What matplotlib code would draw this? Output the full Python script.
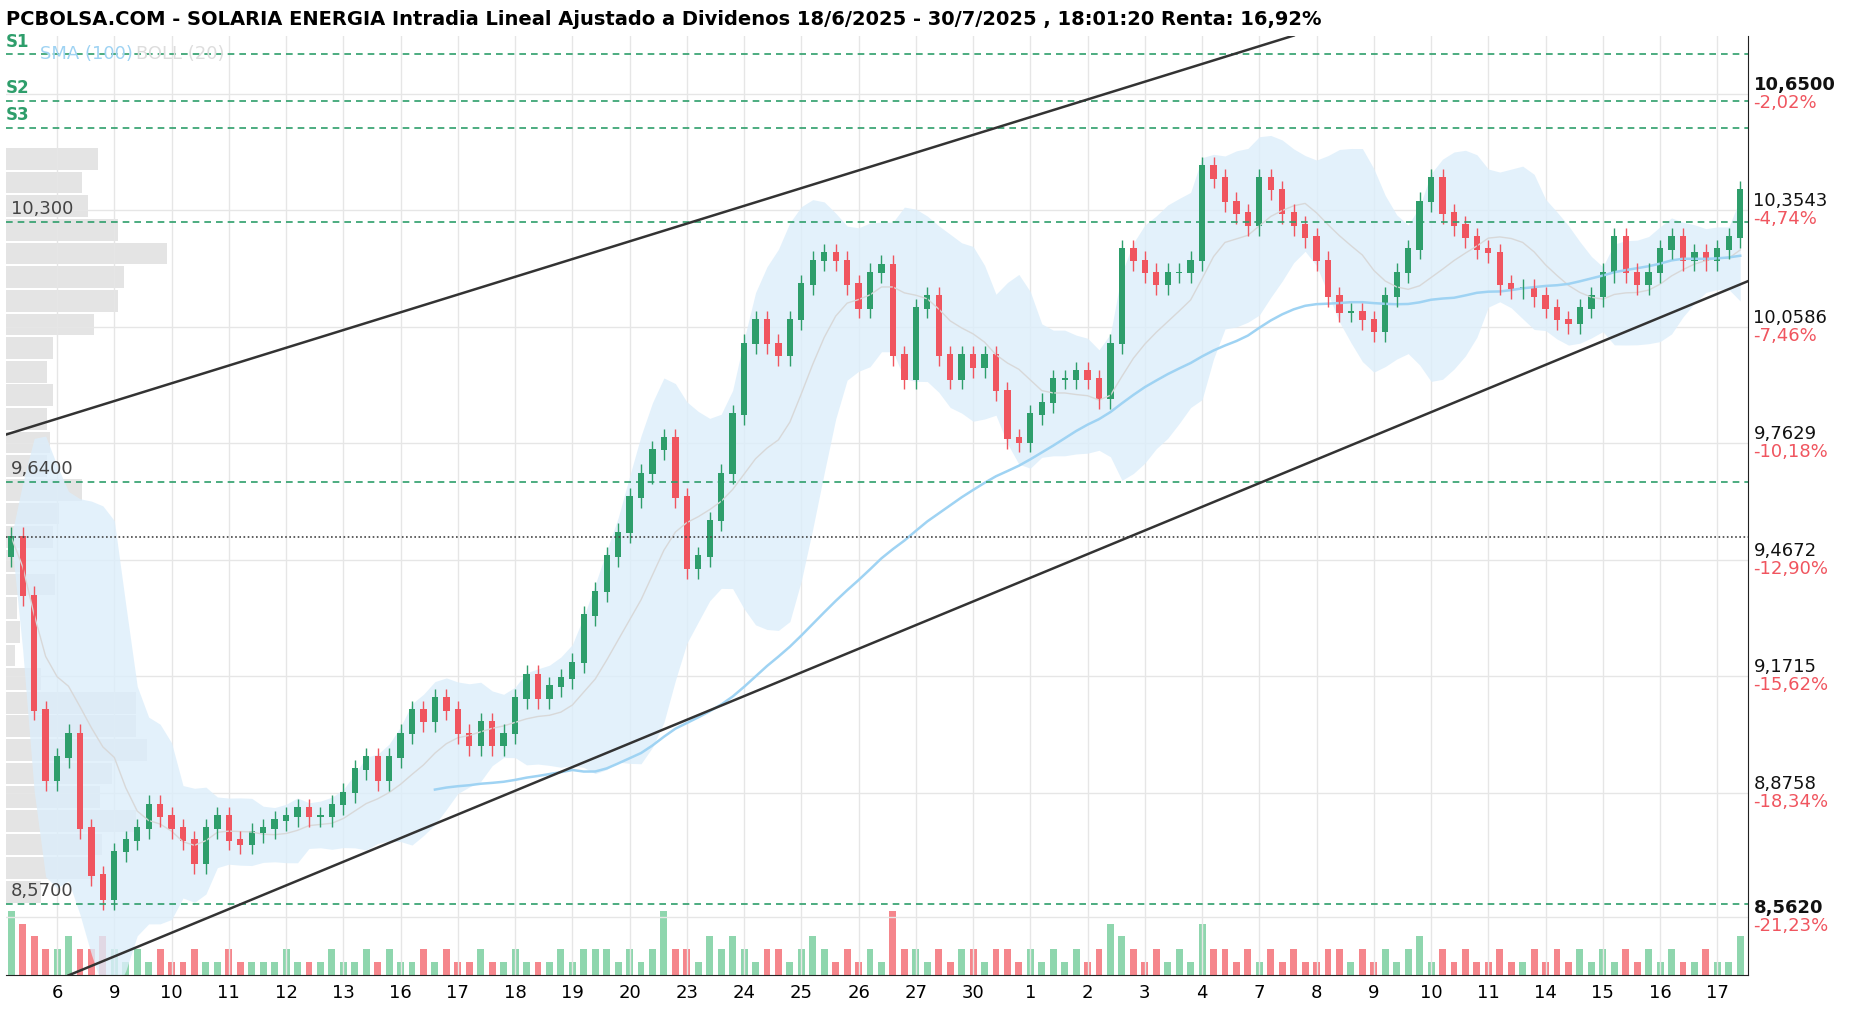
import numpy as np
import pandas as pd
import matplotlib
matplotlib.use("Agg")
import matplotlib.pyplot as plt

days = ["6","9","10","11","12","13","16","17","18","19","20","23","24","25","26","27","30","1","2","3","4","7","8","9","10","11","14","15","16","17"]
closes = [9.50, 9.35,
 9.06,8.88,8.94,9.00,8.76, 8.64,8.58,8.70,8.73,8.76, 8.82,8.79,8.76,8.73,8.67,
 8.76,8.79,8.73,8.72,8.75, 8.76,8.78,8.79,8.81,8.79, 8.79,8.82,8.85,8.91,8.94,
 8.88,8.94,9.00,9.06,9.03, 9.09,9.06,9.00,8.97,9.03, 8.97,9.00,9.09,9.15,9.09,
 9.12,9.14,9.18,9.30,9.36, 9.45,9.51,9.60,9.66,9.72, 9.75,9.60,9.42,9.45,9.54,
 9.66,9.81,9.99,10.05,9.99, 9.96,10.05,10.14,10.20,10.22, 10.20,10.14,10.08,10.17,10.19,
 9.96,9.90,10.08,10.11,9.96, 9.90,9.96,9.93,9.96,9.87, 9.75,9.74,9.81,9.84,9.90,
 9.90,9.92,9.90,9.85,9.99, 10.23,10.20,10.17,10.14,10.17, 10.17,10.20,10.44,10.41,10.35,
 10.32,10.29,10.41,10.38,10.32, 10.29,10.26,10.20,10.11,10.07, 10.07,10.05,10.02,10.11,10.17,
 10.23,10.35,10.41,10.32,10.29, 10.26,10.23,10.22,10.14,10.13, 10.13,10.11,10.08,10.05,10.04,
 10.08,10.11,10.17,10.26,10.17, 10.14,10.17,10.23,10.26,10.20, 10.22,10.20,10.23,10.26,10.38]
first_open = 9.45
volumes = [5,4, 3,2,2,3,2, 2,3,2,1,2, 1,2,1,1,2, 1,1,2,1,1, 1,1,2,1,1, 1,2,1,1,2,
 1,2,1,1,2, 1,2,1,1,2, 1,1,2,1,1, 1,2,1,2,2, 2,1,2,1,2, 5,2,2,1,3,
 2,3,2,1,2, 2,1,2,3,2, 1,2,1,2,1, 5,2,2,1,2, 1,2,2,1,2, 2,1,2,1,2,
 1,2,1,2,4, 3,2,1,2,1, 2,1,4,2,2, 1,2,1,2,1, 2,1,1,2,2, 1,2,1,2,1,
 2,3,1,2,1, 2,1,1,2,1, 1,2,1,2,1, 2,1,2,1,2, 1,2,1,2,1, 1,2,1,1,3]
profile_prices = [10.46,10.40,10.34,10.28,10.22,10.16,10.10,10.04,9.98,9.92,9.86,9.80,9.74,9.68,9.62,9.56,9.50,9.44,9.38,9.32,9.26,9.20,9.14,9.08,9.02,8.96,8.90,8.84,8.78,8.72,8.66,8.60]
profile_widths = [78,65,70,95,137,100,95,75,40,35,40,35,38,35,65,45,40,15,42,10,12,8,30,110,110,120,90,80,110,82,75,30]
levels = {"S1":10.725,"S2":10.608,"S3":10.539}
level_lines = [10.30, 9.64, 8.57]
right_ticks = [10.65,10.3543,10.0586,9.7629,9.4672,9.1715,8.8758,8.562]
right_pcts = ["-2,02%","-4,74%","-7,46%","-10,18%","-12,90%","-15,62%","-18,34%","-21,23%"]

c = np.array(closes); n = len(c)
o = np.concatenate([[first_open], c[:-1]])
hi = np.maximum(o, c) + 0.025
lo = np.minimum(o, c) - 0.025
x = np.arange(n)
s = pd.Series(c)
sma = s.rolling(50, min_periods=38).mean()
mid = s.rolling(10, min_periods=1).mean()
sd = s.rolling(10, min_periods=1).std().fillna(0)
up, dn = mid + 2*sd, mid - 2*sd

fig = plt.figure(figsize=(18.5, 10.16), dpi=100)
rect = [0.003, 0.04, 0.942, 0.925]
ymin, ymax = 8.388, 10.773
xmin, xmax = -0.5, n - 0.3
axv = fig.add_axes(rect); axv.set_xlim(xmin, xmax); axv.set_ylim(0, max(volumes)*14.5); axv.axis("off")
axp = fig.add_axes(rect); axp.set_ylim(ymin, ymax); axp.set_xlim(0, 1475); axp.axis("off")
ax = fig.add_axes(rect); ax.set_xlim(xmin, xmax); ax.set_ylim(ymin, ymax)
ax.patch.set_alpha(0)
axp.barh(profile_prices, profile_widths, height=0.055, color="#d9d9d9", alpha=0.7)
green, red = "#2e9e6b", "#f0555f"
cols = [green if cc >= oo else red for oo, cc in zip(o, c)]
vcols = ["#8fd6ae" if cc >= oo else "#f5868c" for oo, cc in zip(o, c)]
axv.bar(x, volumes, width=0.6, color=vcols)
ax.fill_between(x, dn, up, color="#dceefb", alpha=0.8, lw=0)
ax.plot(x, mid, color="#d8d8d8", lw=1)
ax.plot(x, sma, color="#9fd3f3", lw=1.8)
ax.vlines(x, lo, hi, color=cols, lw=1)
ax.bar(x, np.abs(c - o) + 0.004, bottom=np.minimum(o, c), width=0.55, color=cols)
ticks_x = [4 + 5*k for k in range(len(days))]
for t in ticks_x:
    ax.axvline(t, color="#e6e6e6", lw=1, zorder=0)
label_shift = 0.025
for t in right_ticks:
    ax.axhline(t - label_shift, color="#e6e6e6", lw=1, zorder=0)
for v in list(levels.values()) + level_lines:
    ax.axhline(v, color="#2e9e6b", lw=1.2, ls=(0, (4, 3)))
ax.axhline(9.5, color="#444444", lw=1.2, ls=(0, (1, 1.5)))
ax.plot([-0.5, 112], [9.76, 10.773], color="#333333", lw=1.8)
ax.plot([5, n - 0.3], [8.388, 10.15], color="#333333", lw=1.8)
for name, v in levels.items():
    ax.text(0.0, v + 0.01, name, transform=ax.get_yaxis_transform(), color="#2e9e6b", fontsize=12, fontweight="bold", va="bottom", ha="left")
for v in level_lines:
    lbl = f"{v:.3f}".replace(".", ",") if v == 10.30 else f"{v:.4f}".replace(".", ",")
    ax.text(0.003, v + 0.01, lbl, transform=ax.get_yaxis_transform(), color="#444444", fontsize=13, va="bottom", ha="left")
ax.text(0.02, 10.75, "SMA (100)", transform=ax.get_yaxis_transform(), color="#9fd3f3", fontsize=13, va="top")
ax.text(0.075, 10.75, "BOLL (20)", transform=ax.get_yaxis_transform(), color="#dddddd", fontsize=13, va="top")
ax.set_xticks(ticks_x); ax.set_xticklabels(days, fontsize=13)
ax.set_yticks([])
ax.tick_params(axis="x", length=0, pad=6)
for sp in ["top", "left"]:
    ax.spines[sp].set_visible(False)
ax.spines["right"].set_color("#222222"); ax.spines["bottom"].set_color("#222222")
for i, (t, p) in enumerate(zip(right_ticks, right_pcts)):
    bold = i in (0, len(right_ticks) - 1)
    ax.text(1.003, t - label_shift, f"{t:.4f}".replace(".", ","), transform=ax.get_yaxis_transform(), fontsize=13, va="bottom", ha="left", fontweight="bold" if bold else "normal", color="#111111")
    ax.text(1.003, t - label_shift, p, transform=ax.get_yaxis_transform(), fontsize=13, va="top", ha="left", color="#f0555f")
fig.text(0.003, 0.99, "PCBOLSA.COM - SOLARIA ENERGIA Intradia Lineal Ajustado a Dividenos 18/6/2025 - 30/7/2025 , 18:01:20 Renta: 16,92%", fontsize=14, fontweight="bold", va="top", ha="left")
fig.savefig("out.png", dpi=100)
